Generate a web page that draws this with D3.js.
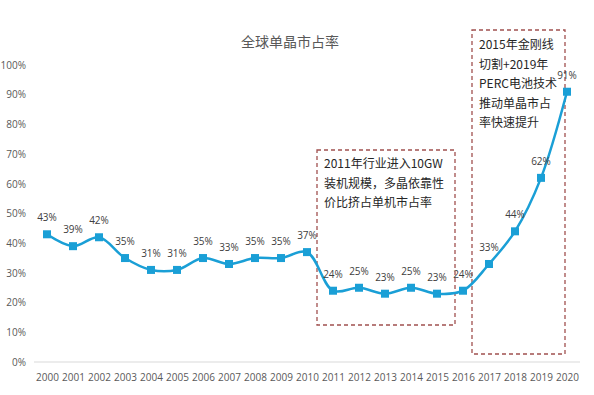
<!DOCTYPE html>
<html>
<head>
<meta charset="utf-8">
<script src="https://cdn.jsdelivr.net/npm/d3@7"></script>
<style>
  body { margin: 0; background: #fff; }
  svg { font-family: "Noto Sans CJK SC", "Noto Sans", sans-serif; }
</style>
</head>
<body>
<div id="chart"></div>
<script>
// data
const years = ['2000','2001','2002','2003','2004','2005','2006','2007','2008','2009',
  '2010','2011','2012','2013','2014','2015','2016','2017','2018','2019','2020'];
const share = [43, 39, 42, 35, 31, 31, 35, 33, 35, 35, 37, 24, 25, 23, 25, 23, 24, 33, 44, 62, 91];
const yTicks = [0, 10, 20, 30, 40, 50, 60, 70, 80, 90, 100];
const title = '全球单晶市占率';
const note1 = ['2011年行业进入10GW', '装机规模，多晶依靠性', '价比挤占单机市占率'];
const note2 = ['2015年金刚线', '切割+2019年', 'PERC电池技术', '推动单晶市占', '率快速提升'];

const width = 594, height = 395;
const margin = {top: 65, right: 14, bottom: 33, left: 34};

const svg = d3.select('#chart').append('svg')
  .attr('width', width)
  .attr('height', height);

let x = d3.scalePoint()
  .domain(years)
  .range([margin.left, width - margin.right])
  .padding(0.5);
let y = d3.scaleLinear()
  .domain([0, 100])
  .range([height - margin.bottom, margin.top]);

// title
svg.append('text')
  .attr('x', 290).attr('y', 47)
  .attr('text-anchor', 'middle')
  .attr('font-size', 14)
  .attr('fill', '#595959')
  .text(title);

// y axis (labels only)
let yAxis = svg.append('g')
  .attr('transform', `translate(${margin.left}, 0)`)
  .call(d3.axisLeft(y).tickValues(yTicks).tickSize(0).tickPadding(8).tickFormat(d => d + '%'));
yAxis.select('.domain').remove();
yAxis.selectAll('text').attr('font-size', 10).attr('fill', '#595959')
  .attr('font-family', '"Open Sans", sans-serif');

// x axis
let xAxis = svg.append('g')
  .attr('transform', `translate(0, ${y(0)})`)
  .call(d3.axisBottom(x).tickSize(0).tickPadding(12));
xAxis.select('.domain').attr('stroke', '#d9d9d9').attr('stroke-width', 1)
  .attr('d', `M${margin.left},0H${width - margin.right}`);
xAxis.selectAll('text').attr('font-size', 10).attr('fill', '#595959')
  .attr('font-family', '"Open Sans", sans-serif');

// dashed annotation boxes
function noteBox(x0, y0, x1, y1, lines, tx, ty) {
  svg.append('rect')
    .attr('x', x0).attr('y', y0)
    .attr('width', x1 - x0).attr('height', y1 - y0)
    .attr('fill', 'none')
    .attr('stroke', '#a0504f')
    .attr('stroke-width', 1.3)
    .attr('stroke-dasharray', '4,3');
  let t = svg.append('text')
    .attr('font-size', 12)
    .attr('fill', '#262626');
  lines.forEach((l, i) => {
    t.append('tspan').attr('x', tx).attr('y', ty + i * 19.5).text(l);
  });
}
noteBox(317, 150, 455, 325, note1, 324, 168);
noteBox(472, 30, 565, 354, note2, 479, 49);

// line
const pts = years.map((d, i) => ({year: d, v: share[i]}));
let line = d3.line()
  .x(d => x(d.year))
  .y(d => y(d.v))
  .curve(d3.curveCatmullRom.alpha(0.5));
svg.append('path')
  .datum(pts)
  .attr('d', line)
  .attr('fill', 'none')
  .attr('stroke', '#1a9fd6')
  .attr('stroke-width', 2.5);

svg.selectAll('.pt')
  .data(pts)
  .enter()
  .append('rect')
  .attr('class', 'pt')
  .attr('x', d => x(d.year) - 4)
  .attr('y', d => y(d.v) - 4)
  .attr('width', 8).attr('height', 8)
  .attr('fill', '#1a9fd6');

svg.selectAll('.lbl')
  .data(pts)
  .enter()
  .append('text')
  .attr('class', 'lbl')
  .attr('x', d => x(d.year))
  .attr('y', d => y(d.v) - 13)
  .attr('text-anchor', 'middle')
  .attr('font-size', 10)
  .attr('fill', '#404040')
  .attr('font-family', '"Open Sans", sans-serif')
  .text(d => d.v + '%');
</script>
</body>
</html>
